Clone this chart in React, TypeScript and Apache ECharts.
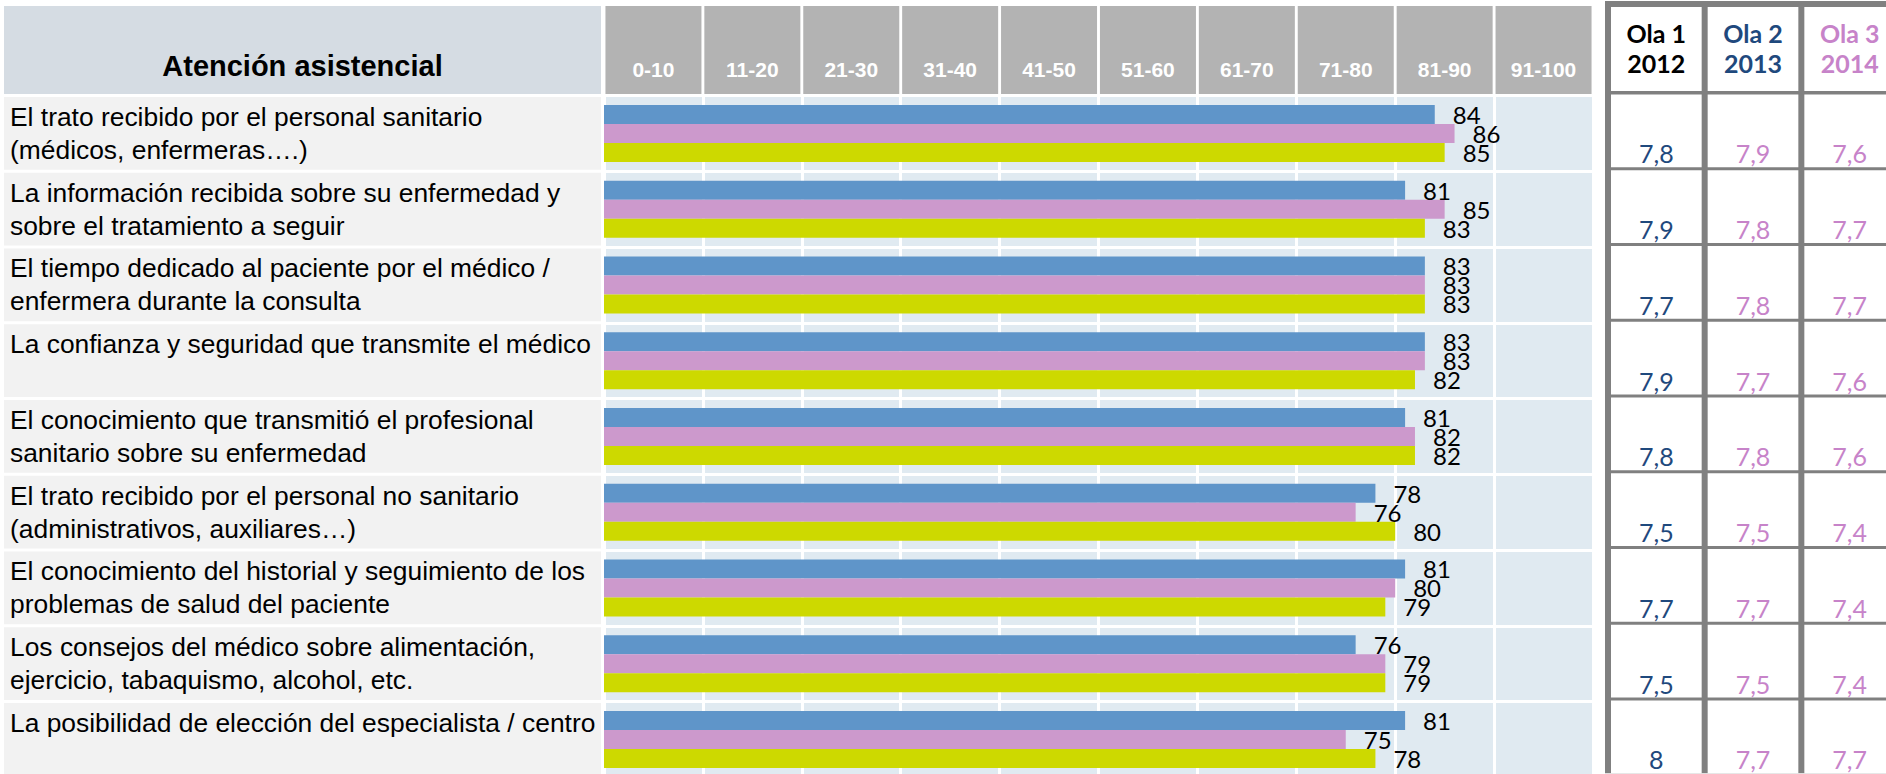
import React, { useEffect, useRef } from 'react';
import * as echarts from 'echarts';

const CATEGORIES = [
  'El trato recibido por el personal sanitario\n(médicos, enfermeras….)',
  'La información recibida sobre su enfermedad y\nsobre el tratamiento a seguir',
  'El tiempo dedicado al paciente por el médico /\nenfermera durante la consulta',
  'La confianza y seguridad que transmite el médico',
  'El conocimiento que transmitió el profesional\nsanitario sobre su enfermedad',
  'El trato recibido por el personal no sanitario\n(administrativos, auxiliares…)',
  'El conocimiento del historial y seguimiento de los\nproblemas de salud del paciente',
  'Los consejos del médico sobre alimentación,\nejercicio, tabaquismo, alcohol, etc.',
  'La posibilidad de elección del especialista / centro',
];
const TITLE = 'Atención asistencial';
const BINS = ['0-10', '11-20', '21-30', '31-40', '41-50', '51-60', '61-70', '71-80', '81-90', '91-100'];
const SERIES_NAMES = ['Ola 1', 'Ola 2', 'Ola 3'];
const SERIES_BLUE = [84, 81, 83, 83, 81, 78, 81, 76, 81];
const SERIES_PINK = [86, 85, 83, 83, 82, 76, 80, 79, 75];
const SERIES_GREEN = [85, 83, 83, 82, 82, 80, 79, 79, 78];
const TABLE_HEADERS = ['Ola 1\n2012', 'Ola 2\n2013', 'Ola 3\n2014'];
const TABLE_OLA1 = [7.8, 7.9, 7.7, 7.9, 7.8, 7.5, 7.7, 7.5, 8];
const TABLE_OLA2 = [7.9, 7.8, 7.8, 7.7, 7.8, 7.5, 7.7, 7.5, 7.7];
const TABLE_OLA3 = [7.6, 7.7, 7.7, 7.6, 7.6, 7.4, 7.4, 7.4, 7.7];

const BAR_COLORS = ['#5f95c9', '#cc99cc', '#cdd900'];
const HEADER_COLORS = ['#000000', '#1f497d', '#c783c9'];
const VALUE_COLORS = ['#1f497d', '#c783c9', '#c783c9'];

export default function App() {
  const ref = useRef<HTMLDivElement>(null);
  useEffect(() => {
    const chart = echarts.init(ref.current!, null, { renderer: 'svg' });
    const LABEL_FONT = "'Liberation Sans', Arial, sans-serif";
    const NUM_FONT = "Lato, 'Open Sans', sans-serif";
    const N = CATEGORIES.length;
    const ROW_H = 75.75;
    const GRID_TOP = 95.5;
    const PLOT_LEFT = 604;
    const PLOT_W = 989;
    const TBL_LEFT = 1605;
    const TBL_COL_W = 96.67;
    const TBL_TOP = 91.5;

    const seriesData = [SERIES_BLUE, SERIES_PINK, SERIES_GREEN];
    const tableCols = [TABLE_OLA1, TABLE_OLA2, TABLE_OLA3];
    const tableData: number[][] = [];
    tableCols.forEach((arr, c) => arr.forEach((v, r) => tableData.push([c, r, v])));

    const headerGraphics: any[] = [
      { type: 'rect', shape: { x: 4, y: 6, width: 597, height: 88 }, style: { fill: '#d5dce3' } },
      {
        type: 'text', x: 302.5, y: 66,
        style: { text: TITLE, align: 'center', verticalAlign: 'middle', fill: '#000', font: `bold 29px ${LABEL_FONT}` },
      },
      { type: 'rect', shape: { x: TBL_LEFT, y: 1, width: 300, height: 92 }, style: { fill: '#808080' } },
    ];
    TABLE_HEADERS.forEach((h, c) => {
      const x0 = TBL_LEFT + c * TBL_COL_W + 6;
      headerGraphics.push({ type: 'rect', shape: { x: x0, y: 7, width: TBL_COL_W - 6, height: 84 }, style: { fill: '#fff' } });
      headerGraphics.push({
        type: 'text', x: x0 + (TBL_COL_W - 6) / 2, y: 48,
        style: { text: h, align: 'center', verticalAlign: 'middle', fill: HEADER_COLORS[c], lineHeight: 30, font: `bold 25px ${NUM_FONT}` },
      });
    });

    const option: any = {
      animation: false,
      backgroundColor: '#ffffff',
      grid: [
        { left: PLOT_LEFT, top: GRID_TOP, width: PLOT_W, height: ROW_H * N, show: true, backgroundColor: '#e0eaf1', borderWidth: 0, containLabel: false, outerBoundsMode: 'none' },
        { left: TBL_LEFT, top: TBL_TOP, width: TBL_COL_W * 3, height: ROW_H * N, show: true, backgroundColor: '#808080', borderWidth: 0, containLabel: false, outerBoundsMode: 'none' },
      ],
      xAxis: [
        {
          type: 'value', gridIndex: 0, min: 0, max: 100, interval: 10,
          axisLabel: { show: false }, axisLine: { show: false }, axisTick: { show: false },
          splitLine: { show: true, lineStyle: { color: '#ffffff', width: 3 } },
        },
        {
          type: 'category', gridIndex: 0, position: 'top', data: BINS,
          axisLine: { show: false }, axisTick: { show: false }, splitLine: { show: false },
          axisLabel: {
            interval: 0, margin: 1.5, color: '#ffffff', fontWeight: 'bold', fontSize: 21, fontFamily: LABEL_FONT,
            backgroundColor: '#b3b3b3', width: 96, height: 74, lineHeight: 21, padding: [0, 0, 14, 0],
            align: 'center', verticalAlign: 'bottom',
          },
        },
        { type: 'category', gridIndex: 1, data: TABLE_HEADERS, show: false },
      ],
      yAxis: [
        {
          type: 'category', gridIndex: 0, inverse: true, data: CATEGORIES,
          axisLine: { show: false }, axisTick: { show: false },
          splitLine: { show: true, interval: 0, lineStyle: { color: '#ffffff', width: 3 } },
          axisLabel: {
            interval: 0, margin: 600, align: 'left', verticalAlign: 'middle',
            width: 591, height: ROW_H - 3, padding: [0, 0, 0, 6], backgroundColor: '#f2f2f2',
            color: '#000', fontSize: 26.4, lineHeight: 33, fontFamily: LABEL_FONT,
            formatter: (v: string) => (v.indexOf('\n') >= 0 ? v : v + '\n'),
          },
        },
        { type: 'category', gridIndex: 1, inverse: true, data: CATEGORIES, show: false },
      ],
      series: [
        ...SERIES_NAMES.map((name, i) => ({
          name, type: 'bar', xAxisIndex: 0, yAxisIndex: 0, data: seriesData[i],
          barWidth: 19, barGap: '0%',
          itemStyle: { color: BAR_COLORS[i] },
          label: { show: true, position: 'right', distance: 18, color: '#000', fontSize: 24, fontFamily: NUM_FONT },
        })),
        {
          type: 'custom', xAxisIndex: 2, yAxisIndex: 1, data: tableData,
          renderItem: (params: any, api: any) => {
            const c = api.value(0);
            const r = api.value(1);
            const v = api.value(2);
            const p = api.coord([c, r]);
            const s = api.size([1, 1]);
            const x0 = p[0] - s[0] / 2;
            const y0 = p[1] - s[1] / 2;
            return {
              type: 'group',
              children: [
                { type: 'rect', shape: { x: x0 + 6, y: y0 + 3, width: s[0] - 6, height: s[1] - 3 }, style: { fill: '#ffffff' } },
                {
                  type: 'text',
                  style: {
                    text: String(v).replace('.', ','), x: x0 + 6 + (s[0] - 6) / 2, y: y0 + s[1] - 14,
                    align: 'center', verticalAlign: 'middle', fill: VALUE_COLORS[c], fontSize: 25, fontFamily: NUM_FONT,
                  },
                },
              ],
            };
          },
        },
      ],
      graphic: headerGraphics,
    };
    chart.setOption(option);
    return () => chart.dispose();
  }, []);
  return <div ref={ref} style={{ position: 'absolute', left: 0, top: 0, width: 1886, height: 774 }} />;
}
